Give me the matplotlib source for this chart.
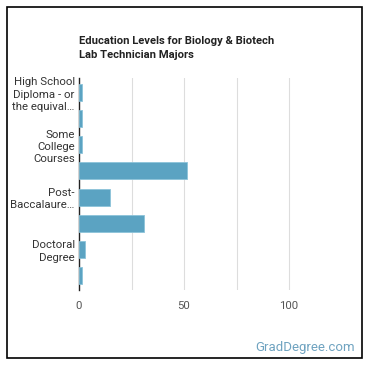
import numpy as np
from matplotlib import pyplot as plt
from matplotlib.patches import Rectangle

plt.rcParams['font.family'] = ['Roboto', 'DejaVu Sans']

levels = ['High School Diploma - or the equivalent', 'Post-Secondary Certificate',
	'Some College Courses', "Bachelor's Degree", 'Post-Baccalaureate Certificate',
	"Master's Degree", 'Doctoral Degree', 'Post-Doctoral Training']
shown = ['High School\nDiploma - or\nthe equival\u2026', '',
	'Some\nCollege\nCourses', '', 'Post-\nBaccalaure\u2026', '',
	'Doctoral\nDegree', '']
percent = [1.5, 1.2, 1.5, 51.4, 14.9, 31.0, 3.0, 1.4]
xticks = [0, 25, 50, 75, 100]
xlabels = ['0', '', '50', '', '100']

fig = plt.figure(figsize=(3.7, 3.7), dpi=100)
fig.patches.append(Rectangle((7 / 370, 12 / 370), 355 / 370, 351 / 370,
	transform=fig.transFigure, fill=False, edgecolor='black', linewidth=1.2))

ax = fig.add_axes([79 / 370, 80 / 370, 262.5 / 370, 212 / 370])
y = np.arange(len(levels))
ax.barh(y, percent, height=0.65, color='#5ba3c2', edgecolor='#8cc3d9', linewidth=0.6, zorder=3)
ax.set_xlim(0, 125)
ax.set_ylim(len(levels) - 0.45, -0.55)
ax.set_yticks(y)
ax.set_yticklabels(shown, fontsize=8.2, color='#333333', linespacing=1.3)
ax.set_xticks(xticks)
ax.set_xticklabels(xlabels, fontsize=8.2, color='#555555')
ax.tick_params(axis='y', length=0, pad=3)
ax.tick_params(axis='x', length=0, pad=8)
ax.grid(axis='x', color='#dddddd', linewidth=0.8, zorder=0)
for s in ['top', 'right', 'bottom']:
	ax.spines[s].set_visible(False)
ax.spines['left'].set_color('#222222')
ax.spines['left'].set_linewidth(1)

fig.text(79 / 370, 1 - 48 / 370, 'Education Levels for Biology & Biotech\nLab Technician Majors',
	fontsize=8.1, fontweight='bold', color='#222222', ha='left', va='center', linespacing=1.45)
fig.text(355 / 370, 1 - 348 / 370, 'GradDegree.com', fontsize=9.5, color='#6fa3c0',
	ha='right', va='center')

plt.savefig('out.png', dpi=100)
